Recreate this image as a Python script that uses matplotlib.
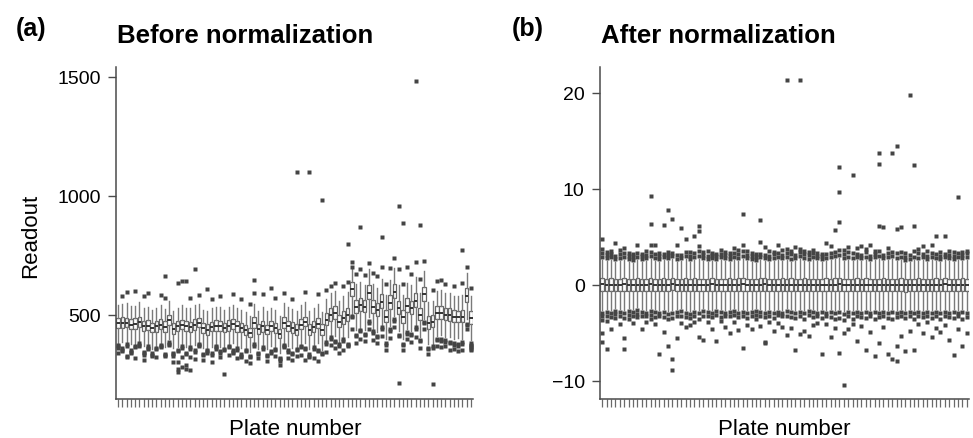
import matplotlib
matplotlib.use("Agg")
import matplotlib.pyplot as plt

plt.rcParams['font.family'] = ['Liberation Sans', 'DejaVu Sans']

# ---------------- Panel (a): before normalization ----------------
med_a = [465,465,465,458,462,468,451,454,444,451,
         458,449,476,441,451,458,451,449,458,465,
         444,436,449,454,451,444,454,461,451,444,
         436,422,465,439,451,436,451,444,419,465,
         451,445,437,458,470,437,449,462,437,479,
         500,508,470,487,500,606,534,542,534,593,
         534,521,555,491,551,597,530,491,538,530,
         559,500,585,466,470,508,508,500,500,491,
         491,491,580,487]
box_lo_a = [20,22,18,20,22,19,21,20,18,22, 20,21,19,22,20,18,21,20,22,19,
            20,21,19,22,20,18,21,20,22,19, 20,18,21,20,22,19,21,20,18,22,
            20,21,22,20,19,21,22,20,21,24, 25,26,24,27,25,28,26,27,25,29,
            26,25,28,24,27,29,26,25,28,26, 27,24,29,25,24,26,25,24,25,24,
            23,24,28,25]
box_hi_a = [22,24,20,22,24,21,23,22,20,24, 22,23,21,24,22,20,23,22,24,21,
            22,23,21,24,22,20,23,22,24,21, 22,20,23,22,24,21,23,22,20,24,
            22,23,24,22,21,23,24,22,23,27, 28,29,27,30,28,31,29,30,28,32,
            29,28,31,27,30,32,29,28,31,29, 30,27,32,28,27,29,28,27,28,27,
            26,27,31,28]
wlo_a = [85,80,88,82,86,78,84,80,87,82, 80,85,78,83,88,82,86,80,84,79,
         83,81,85,80,86,82,84,79,83,85, 80,78,86,82,84,81,85,80,79,86,
         82,85,80,84,88,82,86,83,85,92, 95,98,90,96,94,105,100,102,98,104,
         100,96,102,92,100,104,98,95,100,97, 103,94,102,90,92,96,95,93,94,92,
         90,92,100,94]
whi_a = [75,78,82,80,76,84,78,80,74,79, 82,76,80,75,78,83,77,80,81,78,
         76,79,77,80,82,76,78,81,79,75, 77,74,80,76,82,78,79,75,76,83,
         80,77,79,82,84,78,80,83,76,88, 90,92,86,90,94,92,96,94,92,98,
         95,92,96,90,94,100,95,90,96,94, 98,92,100,86,88,92,94,92,90,88,
         88,90,95,90]
out_a = [
    [372,366,360,340], [358,352,346,580], [376,370,328,320,595],
    [350,344,338], [368,362,318,600], [380,374,368], [344,338,332,310,578],
    [366,360,354,590], [338,332,326], [360,354,322], [374,368,362,582],
    [336,330,324,661,570], [384,378,372], [340,334,328,300],
    [352,346,300,270,258,632], [366,360,320,280,640], [340,334,290,270,640],
    [362,356,320,268,572], [350,344,312,690], [378,372,366,582],
    [336,330,310], [352,346,340,606], [338,332,300,566], [368,362,356],
    [346,340,322,578], [356,350,250], [370,364,330], [350,344,338,585],
    [358,352,318], [334,328,322,566], [352,346,306],
    [328,322,295,545], [376,370,644,590], [340,334,316], [362,356,585],
    [330,324,304], [346,340,614], [356,350,326,568],
    [318,312,306,290], [374,368,362,592], [350,344,318],
    [340,334,310,566], [356,350,328,1102], [368,362,330],
    [360,354,310,595], [334,328,322,1102], [362,356,318],
    [352,346,306,588], [340,334,983], [384,378,344,604],
    [404,398,372,620], [390,384,360,632], [376,370,340],
    [396,390,352,622], [378,372,368,797,636], [494,488,440,700,720],
    [414,408,380,672], [436,430,398,869,690], [420,414,390,666],
    [472,466,440,718], [430,424,392,676], [410,404,380,662],
    [446,440,408,826,700], [380,374,352,628], [438,432,400,696],
    [480,474,446,740], [416,410,212,958,692], [378,372,350,886,630],
    [426,420,398,700], [420,414,384,672], [446,440,404,1483,720],
    [394,388,360,877,650], [470,464,438,726], [360,354,334],
    [366,360,208,604], [398,392,370,640], [396,390,362,646],
    [392,386,366,628], [386,380,352], [380,374,354,622],
    [376,370,346], [384,378,350,771,632], [462,456,440,700],
    [380,374,368,362,356,350,612],
]

# ---------------- Panel (b): after normalization ----------------
med_b = [0.05,0.0,0.02,-0.03,0.0,0.04,0.0,-0.02,0.03,0.0,
         0.0,0.05,0.0,-0.04,0.02,0.0,0.06,0.0,-0.02,0.03,
         0.0,0.02,0.0,-0.03,0.0,0.04,0.0,0.0,-0.02,0.03,
         0.0,0.02,0.05,0.0,-0.03,0.0,0.02,0.04,0.0,-0.02,
         0.0,0.03,0.0,0.02,-0.02,0.0,0.03,0.0,0.0,-0.03,
         0.0,0.02,0.0,0.03,0.05,0.0,-0.02,0.0,0.02,0.0,
         0.03,0.0,-0.02,0.0,0.02,0.0,-0.04,0.0,0.02,-0.05,
         0.0,0.0,0.02,0.0,-0.02,0.0,0.03,0.0,0.05,0.0,
         -0.02,0.0,0.02,0.0]
box_half_b = 0.65
whi_b = [2.6,2.5,2.6,2.4,2.5,2.6,2.4,2.3,2.6,2.4, 2.5,2.7,2.5,2.4,2.6,2.5,2.7,2.4,2.5,2.7,
         2.4,2.6,2.7,2.5,2.4,2.5,2.4,2.6,2.5,2.4, 2.6,2.5,2.7,2.5,2.4,2.3,2.6,2.5,2.4,2.5,
         2.6,2.5,2.6,2.4,2.5,2.7,2.5,2.4,2.6,2.5, 2.4,2.5,2.6,2.7,2.8,2.5,2.6,2.5,2.6,2.5,
         2.6,2.4,2.6,2.7,2.5,2.6,2.7,2.5,2.6,2.3, 2.4,2.6,2.5,2.6,2.4,2.6,2.5,2.4,2.6,2.5,
         2.4,2.6,2.5,2.6]
wlo_b = [-2.6,-2.5,-2.6,-2.4,-2.5,-2.6,-2.4,-2.5,-2.3,-2.5, -2.6,-2.4,-2.5,-2.6,-2.5,-2.7,-2.6,-2.5,-2.4,-2.6,
         -2.7,-2.5,-2.6,-2.4,-2.5,-2.6,-2.4,-2.5,-2.6,-2.5, -2.4,-2.6,-2.5,-2.6,-2.5,-2.4,-2.5,-2.6,-2.5,-2.6,
         -2.5,-2.6,-2.4,-2.5,-2.6,-2.5,-2.6,-2.4,-2.5,-2.6, -2.5,-2.6,-2.5,-2.6,-2.5,-2.7,-2.5,-2.6,-2.5,-2.6,
         -2.5,-2.6,-2.5,-2.6,-2.5,-2.6,-2.5,-2.6,-2.5,-2.6, -2.5,-2.6,-2.5,-2.6,-2.5,-2.6,-2.5,-2.6,-2.5,-2.6,
         -2.5,-2.6,-2.5,-2.6]
out_b_hi = [
    [2.9,3.3,3.7,4.8], [2.8,3.1,3.4], [2.9,3.2,3.5], [2.7,3.0,4.4], [2.8,3.2,3.6],
    [2.9,3.3,3.8], [2.7,3.0,3.3], [2.6,2.9,3.2], [2.9,3.3,4.2], [2.7,3.0,3.2],
    [2.8,3.1,3.5], [3.0,3.4,4.2,6.3,9.3], [2.8,3.2,4.1], [2.7,3.0,3.3], [2.9,3.2,6.2],
    [2.8,3.1,3.4,7.8], [3.0,3.3,6.9], [2.7,3.1,4.2], [2.8,3.1,5.9], [3.0,3.4,4.8],
    [2.7,3.0,3.4], [2.9,3.3,5.1], [3.0,3.5,4.0,5.6,6.1], [2.8,3.1,3.4], [2.7,3.0,3.5],
    [2.8,3.1,3.3], [2.7,3.0,3.2], [2.9,3.2,3.6], [2.8,3.1,3.4], [2.7,3.0,3.3],
    [2.9,3.3,3.8], [2.8,3.2,3.6], [3.0,3.5,4.2,7.4], [2.8,3.1,3.5], [2.7,3.0,3.3],
    [2.6,2.9,3.2], [2.9,3.2,4.5,6.8], [2.8,3.1,3.9], [2.7,3.0,3.5], [2.8,3.2,3.4],
    [2.9,3.3,4.1], [2.8,3.1,3.6], [2.9,3.3,3.7,21.3], [2.7,3.2,3.5], [2.8,3.1,3.9],
    [3.0,3.4,3.7,21.3], [2.8,3.2,3.5], [2.7,3.1,3.4], [2.9,3.3,3.6], [2.8,3.0,3.3],
    [2.7,3.0,3.2], [2.8,3.2,4.4], [2.9,3.3,4.0], [3.0,3.4,5.7], [3.1,3.6,6.5,9.7,12.3],
    [2.8,3.2,3.6], [2.9,3.4,3.9], [2.8,3.3,11.4], [2.9,3.2,3.8], [2.8,3.1,4.0],
    [2.9,3.4,3.7], [2.7,3.0,4.2], [2.9,3.2,3.5], [3.0,3.5,6.1,12.6,13.7], [2.8,3.1,6.0],
    [2.9,3.3,3.8], [3.0,3.4,13.7], [2.8,3.3,5.8,14.5], [2.9,3.4,6.0], [2.6,2.9,3.3],
    [2.7,3.1,19.8], [2.9,3.5,6.1,12.5], [2.8,3.3,3.7], [2.9,3.2,4.0], [2.7,3.0,3.5],
    [2.9,3.3,4.1], [2.8,3.2,5.1], [2.7,3.0,3.4], [2.9,3.2,5.1], [2.8,3.1,3.5],
    [2.7,3.0,3.4], [2.9,3.3,9.2], [2.8,3.1,3.4], [2.9,3.3,3.5],
]
out_b_lo = [
    [-2.9,-3.3,-3.7,-5.0,-6.0], [-2.8,-3.2,-3.8,-6.7], [-2.9,-3.4,-4.6], [-2.7,-3.0,-3.5],
    [-2.8,-3.2,-4.1], [-2.9,-3.5,-5.5,-6.7], [-2.7,-3.1,-3.6], [-2.8,-3.3,-4.0],
    [-2.6,-3.0,-3.4], [-2.8,-3.2,-4.6], [-2.9,-3.3,-3.9], [-2.7,-3.1,-3.6],
    [-2.8,-3.4,-4.1], [-2.9,-3.3,-7.2], [-2.8,-3.4,-4.9], [-3.0,-3.6,-6.4],
    [-2.9,-3.5,-7.7,-8.9], [-2.8,-3.3,-5.5], [-2.7,-3.2,-4.0], [-2.9,-3.4,-4.4],
    [-3.0,-3.5,-4.2], [-2.8,-3.3,-3.9], [-2.9,-3.6,-5.4], [-2.7,-3.2,-5.7],
    [-2.8,-3.3,-3.9], [-2.9,-3.4,-4.6], [-2.7,-3.1,-5.9], [-2.8,-3.4,-3.8],
    [-2.9,-3.3,-4.4], [-2.8,-3.2,-5.0], [-2.7,-3.1,-3.9], [-2.9,-3.4,-4.7],
    [-2.8,-3.3,-6.6], [-2.9,-3.5,-4.2], [-2.8,-3.2,-4.6], [-2.7,-3.1,-3.6],
    [-2.8,-3.3,-4.3], [-2.9,-3.4,-6.0,-6.1], [-2.8,-3.2,-3.9], [-2.9,-3.5,-4.8],
    [-2.8,-3.1,-4.0], [-2.9,-3.3,-4.4], [-2.7,-3.2,-5.2], [-2.8,-3.4,-4.5],
    [-2.9,-3.5,-6.8], [-2.8,-3.2,-5.1], [-2.9,-3.6,-4.8], [-2.7,-3.1,-5.3],
    [-2.8,-3.4,-4.2], [-2.9,-3.3,-4.0], [-2.8,-3.5,-7.2], [-2.9,-3.2,-4.1],
    [-2.8,-3.4,-5.4], [-2.9,-3.6,-4.5], [-2.8,-3.5,-7.1], [-3.0,-3.7,-5.0,-10.4],
    [-2.8,-3.2,-4.6], [-2.9,-3.6,-4.1], [-2.8,-3.3,-5.9], [-2.9,-3.4,-4.3],
    [-2.8,-3.5,-6.8], [-2.9,-3.3,-4.9], [-2.8,-3.6,-7.4], [-2.9,-3.4,-6.1],
    [-2.8,-3.2,-4.4], [-2.9,-3.5,-7.2], [-2.8,-3.6,-7.7], [-2.9,-3.4,-6.4,-7.9],
    [-2.8,-3.3,-5.3], [-2.9,-3.5,-6.9], [-2.8,-3.2,-4.8], [-2.9,-3.6,-6.8],
    [-2.8,-3.3,-4.1], [-2.9,-3.4,-5.0], [-2.8,-3.2,-3.9], [-2.9,-3.5,-5.4],
    [-2.8,-3.3,-4.5], [-2.9,-3.6,-4.9], [-2.8,-3.2,-4.2], [-2.9,-3.4,-5.7],
    [-2.8,-3.5,-7.3], [-2.9,-3.3,-4.6], [-2.8,-3.6,-6.4], [-2.9,-3.4,-5.0],
]

yticks_a = [500, 1000, 1500]
yticks_b = [-10, 0, 10, 20]
ytick_labels_b = ['\u221210', '0', '10', '20']

n = len(med_a)
for L in (box_lo_a, box_hi_a, wlo_a, whi_a, out_a, med_b, whi_b, wlo_b, out_b_hi, out_b_lo):
    assert len(L) == n, len(L)

stats_a = []
for i in range(n):
    stats_a.append(dict(med=med_a[i], q1=med_a[i] - box_lo_a[i], q3=med_a[i] + box_hi_a[i],
                        whislo=med_a[i] - wlo_a[i], whishi=med_a[i] + whi_a[i],
                        fliers=out_a[i]))
stats_b = []
for i in range(n):
    stats_b.append(dict(med=med_b[i], q1=med_b[i] - box_half_b, q3=med_b[i] + box_half_b,
                        whislo=wlo_b[i], whishi=whi_b[i],
                        fliers=out_b_hi[i] + out_b_lo[i]))

W, H = 973, 439
fig = plt.figure(figsize=(W / 100, H / 100), dpi=100)
axa = fig.add_axes([116 / W, 1 - 400 / H, (473 - 116) / W, (400 - 68) / H])
axb = fig.add_axes([600 / W, 1 - 400 / H, (969 - 600) / W, (400 - 68) / H])

spine_col = '#4a4a4a'
box_kw = dict(positions=range(1, n + 1), widths=0.8, showcaps=False, patch_artist=True,
              boxprops=dict(facecolor='white', edgecolor='#666666', linewidth=0.9),
              medianprops=dict(color='#333333', linewidth=1.4),
              whiskerprops=dict(color='#7a7a7a', linewidth=1.0),
              flierprops=dict(marker='s', markersize=2.3, markerfacecolor='#444444',
                              markeredgecolor='none'))

axa.bxp(stats_a, **box_kw)
axb.bxp(stats_b, **box_kw)

axa.set_ylim(145, 1542)
axb.set_ylim(-11.9, 22.7)
axa.set_yticks(yticks_a)
axa.set_yticklabels([str(v) for v in yticks_a])
axb.set_yticks(yticks_b)
axb.set_yticklabels(ytick_labels_b)

for ax in (axa, axb):
    ax.set_xlim(0.5, n + 0.5)
    ax.set_xticks(range(1, n + 1))
    ax.set_xticklabels([])
    ax.spines['top'].set_visible(False)
    ax.spines['right'].set_visible(False)
    for s in ('left', 'bottom'):
        ax.spines[s].set_color(spine_col)
        ax.spines[s].set_linewidth(1.1)
    ax.tick_params(axis='x', length=6, width=0.9, color='#6a6a6a')
    ax.tick_params(axis='y', length=6, width=1.0, color=spine_col, labelsize=14, pad=5)

fig.text(16 / W, 1 - 36 / H, '(a)', fontsize=18, fontweight='bold', va='baseline', ha='left')
fig.text(117 / W, 1 - 43 / H, 'Before normalization', fontsize=18.5, fontweight='bold',
         va='baseline', ha='left')
fig.text(512 / W, 1 - 36 / H, '(b)', fontsize=18, fontweight='bold', va='baseline', ha='left')
fig.text(601 / W, 1 - 43 / H, 'After normalization', fontsize=18.5, fontweight='bold',
         va='baseline', ha='left')
fig.text(31 / W, 1 - 236 / H, 'Readout', fontsize=16, rotation=90, ha='center', va='center')
fig.text(295 / W, 1 - 435 / H, 'Plate number', fontsize=16, ha='center', va='baseline')
fig.text(784 / W, 1 - 435 / H, 'Plate number', fontsize=16, ha='center', va='baseline')

fig.savefig('out.png', dpi=100)
